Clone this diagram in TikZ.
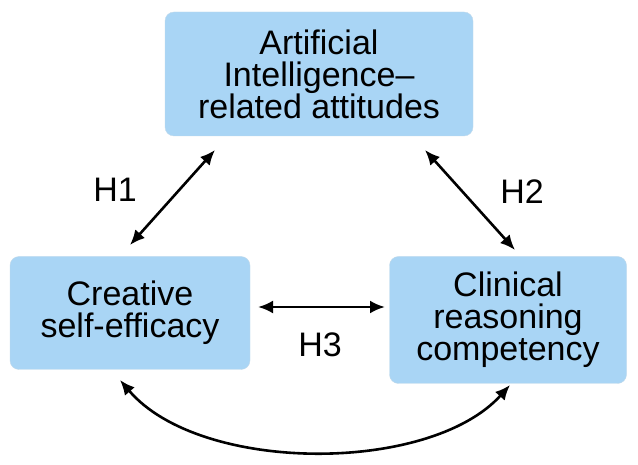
\documentclass[tikz,border=0pt]{standalone}
\usepackage{fontspec}
\setmainfont{Liberation Sans}
\usetikzlibrary{arrows.meta}
\definecolor{boxblue}{HTML}{A9D5F5}
\begin{document}
\begin{tikzpicture}[x=1pt,y=1pt,
  box/.style={draw=boxblue!90!black!60, fill=boxblue, rounded corners=9pt, align=center, font=\fontsize{34}{32}\selectfont, inner sep=0pt},
  link/.style={{Latex[length=15pt,width=13pt]}-{Latex[length=15pt,width=13pt]}, line width=2.6pt},
  lab/.style={font=\fontsize{34}{32}\selectfont}]
\useasboundingbox (0,0) rectangle (638,464);
\node[box, minimum width=308, minimum height=124] (ai) at (319,390) {Artificial\\Intelligence–\\related attitudes};
\node[box, minimum width=240, minimum height=113] (cs) at (130,151) {Creative\\self-efficacy};
\node[box, minimum width=237, minimum height=127] (cr) at (508,144) {Clinical\\reasoning\\competency};
\coordinate (a1) at (215,314); \coordinate (b1) at (130,219);
\coordinate (a2) at (425,314); \coordinate (b2) at (515,214);
\coordinate (a3) at (258,157); \coordinate (b3) at (385,157);
\coordinate (c1) at (120,84); \coordinate (c2) at (510,79);
\draw[link] (a1) -- (b1);
\draw[link] (a2) -- (b2);
\draw[link] (a3) -- (b3);
\draw[link] (c1) .. controls (200,-10) and (430,-10) .. (c2);
\node[lab] (h1) at (115,274) {H1};
\node[lab] (h2) at (522,272) {H2};
\node[lab] (h3) at (320,119) {H3};
\end{tikzpicture}
\end{document}
